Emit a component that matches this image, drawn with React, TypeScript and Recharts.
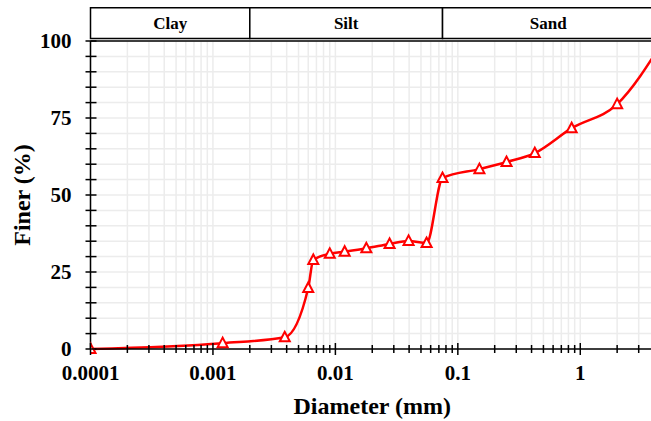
import React from 'react';
import {
  LineChart,
  Line,
  XAxis,
  YAxis,
  CartesianGrid,
  ReferenceArea,
  ReferenceLine
} from 'recharts';

// grain size distribution
const diameters = [0.0001, 0.0012, 0.00386, 0.006, 0.0066, 0.009, 0.0119, 0.0179, 0.0277, 0.0396, 0.0556, 0.075, 0.15, 0.25, 0.425, 0.85, 2.0, 4.75];
const finer = [0, 1.9, 3.8, 19.8, 28.9, 30.9, 31.6, 32.7, 34.1, 35.1, 34.4, 55.5, 58.4, 60.7, 63.6, 71.7, 79.5, 100];

// soil classes and their diameter limits (mm)
const classNames = ['Clay', 'Silt', 'Sand'];
const classLimits = [0.0001, 0.002, 0.075, 4];

const xLabelTicks = [0.0001, 0.001, 0.01, 0.1, 1];
const xMultipliers = [1, 2, 3, 4, 5, 6, 7, 8, 9];
const xTicks = xLabelTicks
  .flatMap((d) => xMultipliers.map((m) => Number((d * m).toPrecision(3))))
  .filter((v) => v <= 4);

const yTicks = [0, 5, 10, 15, 20, 25, 30, 35, 40, 45, 50, 55, 60, 65, 70, 75, 80, 85, 90, 95, 100];
const yLabelTicks = [0, 25, 50, 75, 100];

const data = diameters.map((d, i) => ({ d, finer: finer[i] }));

const FONT = '"Liberation Serif", "Times New Roman", serif';

const XTick = (props: any) => {
  const { x, y, payload } = props;
  const major = xLabelTicks.includes(payload.value);
  const h = major ? 6 : 4;
  return (
    <g>
      <line x1={x} x2={x} y1={y - h} y2={y + h} stroke="#000" strokeWidth={1.5} />
      {major && (
        <text x={x} y={y + 31} textAnchor="middle" fontFamily={FONT} fontWeight="bold" fontSize={21} fill="#000">
          {payload.value}
        </text>
      )}
    </g>
  );
};

const YTick = (props: any) => {
  const { x, y, payload } = props;
  const major = yLabelTicks.includes(payload.value);
  return (
    <g>
      <line x1={x - 5} x2={x + 6} y1={y} y2={y} stroke="#000" strokeWidth={1.5} />
      {major && (
        <text x={x - 19} y={y + 7} textAnchor="end" fontFamily={FONT} fontWeight="bold" fontSize={21} fill="#000">
          {payload.value}
        </text>
      )}
    </g>
  );
};

const TriangleDot = (props: any) => {
  const { cx, cy, index } = props;
  if (cx == null || cy == null) return null;
  return (
    <polygon
      key={`tri-${index}`}
      points={`${cx},${cy - 5.5} ${cx - 5},${cy + 4} ${cx + 5},${cy + 4}`}
      fill="#fff"
      stroke="#ff0000"
      strokeWidth={2}
    />
  );
};

const App: React.FC = () => {
  return (
    <div style={{ position: 'absolute', left: 0, top: 0, width: 651, height: 421, overflow: 'hidden', background: '#fff' }}>
      <LineChart width={655} height={421} data={data} margin={{ top: 41, right: 1, bottom: 0, left: 0 }}>
        <CartesianGrid stroke="#ececec" strokeWidth={1.5} />
        <XAxis
          dataKey="d"
          type="number"
          scale="log"
          domain={[0.0001, 4]}
          allowDataOverflow
          ticks={xTicks}
          interval={0}
          tick={<XTick />}
          tickSize={0}
          tickMargin={0}
          tickLine={false}
          height={72}
          stroke="#000"
          strokeWidth={1.5}
          label={{
            content: (p: any) => (
              <text
                x={p.viewBox.x + p.viewBox.width / 2}
                y={p.viewBox.y + 65}
                textAnchor="middle"
                fontFamily={FONT}
                fontWeight="bold"
                fontSize={24}
                fill="#000"
              >
                Diameter (mm)
              </text>
            )
          }}
        />
        <YAxis
          type="number"
          domain={[0, 100]}
          ticks={yTicks}
          interval={0}
          tick={<YTick />}
          tickSize={0}
          tickMargin={0}
          tickLine={false}
          width={90.5}
          stroke="#000"
          strokeWidth={1.5}
          label={{
            content: (p: any) => {
              const cx = 22;
              const cy = p.viewBox.y + p.viewBox.height / 2;
              return (
                <text
                  x={cx}
                  y={cy}
                  transform={`rotate(-90 ${cx} ${cy})`}
                  textAnchor="middle"
                  dominantBaseline="central"
                  fontFamily={FONT}
                  fontWeight="bold"
                  fontSize={24}
                  fill="#000"
                >
                  Finer (%)
                </text>
              );
            }
          }}
        />
        <ReferenceLine y={100} stroke="#000" strokeWidth={1.5} ifOverflow="visible" />
        {classNames.map((name, i) => (
          <ReferenceArea
            key={name}
            x1={classLimits[i]}
            x2={classLimits[i + 1]}
            y1={100.8}
            y2={110.8}
            ifOverflow="visible"
            fill="#fff"
            fillOpacity={1}
            stroke="#000"
            strokeWidth={1.5}
            label={{ value: name, position: 'center', fill: '#000', fontFamily: FONT, fontWeight: 'bold', fontSize: 17 }}
          />
        ))}
        <Line
          type="monotone"
          dataKey="finer"
          stroke="#ff0000"
          strokeWidth={2.5}
          dot={TriangleDot}
          activeDot={false}
          isAnimationActive={false}
        />
      </LineChart>
    </div>
  );
};

export default App;
